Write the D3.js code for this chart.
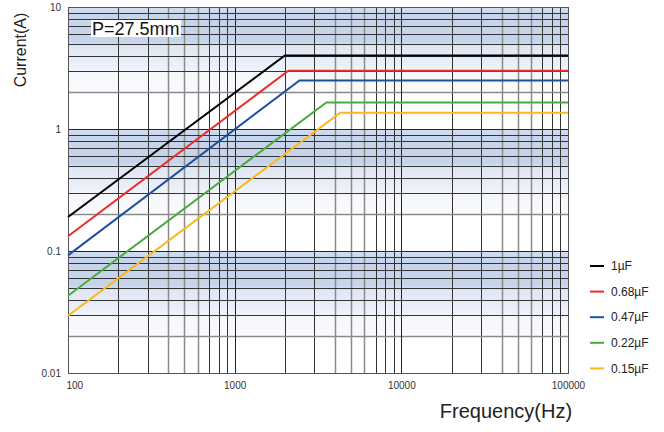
<!DOCTYPE html>
<html>
<head>
<meta charset="utf-8">
<script src="https://cdn.jsdelivr.net/npm/d3@7"></script>
<style>
  body { margin: 0; background: #fff; }
  svg { display: block; font-family: Arial, "Liberation Sans", sans-serif; }
</style>
</head>
<body>
<div id="chart"></div>
<script>
// values
const capLabels = ['1µF', '0.68µF', '0.47µF', '0.22µF', '0.15µF'];
const startCurrent = [0.19, 0.132, 0.092, 0.043, 0.0295];   // A at 100 Hz
const kneeFreq = [2000, 2100, 2450, 3550, 4300];              // Hz
const maxCurrent = [4.0, 3.0, 2.5, 1.65, 1.36];               // A
const xTicks = [100, 1000, 10000, 100000];
const yTicks = [0.01, 0.1, 1, 10];
const pitchLabel = 'P=27.5mm';

const colors = ['#000000', '#ee2a2a', '#1d4f9f', '#4aab3d', '#f9b81b'];

function plotChart() {
	const width = 664, height = 432;
	const svg = d3.select('#chart')
		.append('svg')
		.attr('width', width)
		.attr('height', height);

	const x = d3.scaleLog().domain([100, 100000]).range([68, 568]);
	const y = d3.scaleLog().domain([0.01, 10]).range([373, 7]);

	// banded background
	const defs = svg.append('defs');
	const grad = defs.append('linearGradient')
		.attr('id', 'band')
		.attr('x1', 0).attr('y1', 0).attr('x2', 0).attr('y2', 1);
	[[0, '#d3def0'], [0.1, '#c6d5ec'], [0.4, '#c5d4eb'], [0.46, '#dfe7f4'],
	 [0.72, '#edf1f9'], [0.76, '#f5f7fb'], [0.97, '#fafafd'], [1, '#ffffff']]
		.forEach(function(s) {
			grad.append('stop').attr('offset', s[0]).attr('stop-color', s[1]);
		});

	const decades = [0.01, 0.1, 1];
	svg.append('g').selectAll('rect')
		.data(decades)
		.enter().append('rect')
		.attr('x', x(100))
		.attr('width', x(100000) - x(100))
		.attr('y', function(d) { return y(d * 10); })
		.attr('height', function(d) { return y(d * 2) - y(d * 10); })
		.attr('fill', 'url(#band)');

	// grid
	const grid = svg.append('g');
	const vLines = [];
	[100, 1000, 10000].forEach(function(d) {
		for (let m = 2; m <= 9; m++) vLines.push({v: d * m, m: m});
	});
	grid.selectAll('.vgrid')
		.data(vLines)
		.enter().append('line')
		.attr('class', 'vgrid')
		.attr('x1', function(d) { return Math.round(x(d.v)) + 0.5; })
		.attr('x2', function(d) { return Math.round(x(d.v)) + 0.5; })
		.attr('y1', y(10))
		.attr('y2', y(0.01))
		.attr('stroke', function(d) { return (d.m >= 4 && d.m <= 6) ? '#8a8a8a' : '#333'; })
		.attr('stroke-width', function(d) { return (d.m >= 4 && d.m <= 6) ? 1.5 : 1; });

	const hLines = [];
	decades.forEach(function(d) {
		for (let m = 2; m <= 9; m++) hLines.push({v: d * m, m: m});
	});
	grid.selectAll('.hgrid')
		.data(hLines)
		.enter().append('line')
		.attr('class', 'hgrid')
		.attr('x1', x(100))
		.attr('x2', x(100000))
		.attr('y1', function(d) { return Math.round(y(d.v)) + 0.5; })
		.attr('y2', function(d) { return Math.round(y(d.v)) + 0.5; })
		.attr('stroke', function(d) { return d.m == 2 ? '#8a8a8a' : '#333'; })
		.attr('stroke-width', function(d) { return d.m == 2 ? 1.5 : 1; });

	// major lines
	grid.selectAll('.vmajor')
		.data([1000, 10000])
		.enter().append('line')
		.attr('x1', function(d) { return Math.round(x(d)) + 0.5; })
		.attr('x2', function(d) { return Math.round(x(d)) + 0.5; })
		.attr('y1', y(10)).attr('y2', y(0.01))
		.attr('stroke', '#222');
	grid.selectAll('.hmajor')
		.data([0.1, 1])
		.enter().append('line')
		.attr('x1', x(100)).attr('x2', x(100000))
		.attr('y1', function(d) { return Math.round(y(d)) + 0.5; })
		.attr('y2', function(d) { return Math.round(y(d)) + 0.5; })
		.attr('stroke', '#222');

	svg.append('rect')
		.attr('x', Math.round(x(100)) + 0.5)
		.attr('y', Math.round(y(10)) + 0.5)
		.attr('width', Math.round(x(100000)) - Math.round(x(100)))
		.attr('height', Math.round(y(0.01)) - Math.round(y(10)))
		.attr('fill', 'none')
		.attr('stroke', '#555');

	// current curves
	const line = d3.line()
		.x(function(d) { return x(d[0]); })
		.y(function(d) { return y(d[1]); });

	svg.append('g').selectAll('path')
		.data(capLabels)
		.enter().append('path')
		.attr('d', function(d, i) {
			return line([[100, startCurrent[i]], [kneeFreq[i], maxCurrent[i]], [100000, maxCurrent[i]]]);
		})
		.attr('fill', 'none')
		.attr('stroke', function(d, i) { return colors[i]; })
		.attr('stroke-width', 2);

	// pitch label
	svg.append('rect')
		.attr('x', 91).attr('y', 20)
		.attr('width', 90).attr('height', 17)
		.attr('fill', '#fff');
	svg.append('text')
		.attr('x', 92).attr('y', 35)
		.attr('font-size', 18)
		.attr('fill', '#111')
		.text(pitchLabel);

	// axes
	const yAxis = svg.append('g')
		.attr('transform', 'translate(' + x(100) + ',0)')
		.call(d3.axisLeft(y).tickValues(yTicks).tickFormat(function(d) { return String(d); })
			.tickSize(0).tickPadding(7));
	yAxis.select('.domain').remove();
	yAxis.selectAll('text').attr('font-size', 10).attr('fill', '#333').attr('font-family', null);

	const xAxis = svg.append('g')
		.attr('transform', 'translate(0,' + y(0.01) + ')')
		.call(d3.axisBottom(x).tickValues(xTicks).tickFormat(function(d) { return String(d); })
			.tickSize(0).tickPadding(9));
	xAxis.select('.domain').remove();
	xAxis.selectAll('text').attr('font-size', 10).attr('fill', '#333').attr('font-family', null);
	xAxis.selectAll('text').filter(function(d) { return d == 100; })
		.attr('text-anchor', 'start').attr('dx', -2);

	svg.append('text')
		.attr('x', 506).attr('y', 418)
		.attr('text-anchor', 'middle')
		.attr('font-size', 20)
		.attr('fill', '#222')
		.text('Frequency(Hz)');

	svg.append('text')
		.attr('transform', 'translate(26,50) rotate(-90)')
		.attr('text-anchor', 'middle')
		.attr('font-size', 16)
		.attr('fill', '#222')
		.text('Current(A)');

	// legend
	const legend = svg.append('g').selectAll('g')
		.data(capLabels)
		.enter().append('g')
		.attr('transform', function(d, i) { return 'translate(590,' + (266 + i * 25.6) + ')'; });
	legend.append('line')
		.attr('x1', 0).attr('x2', 14)
		.attr('stroke', function(d, i) { return colors[i]; })
		.attr('stroke-width', 2);
	legend.append('text')
		.attr('x', 21).attr('dy', '0.35em')
		.attr('font-size', 12)
		.attr('fill', '#222')
		.text(function(d) { return d; });
}

document.addEventListener('DOMContentLoaded', plotChart, false);
</script>
</body>
</html>
